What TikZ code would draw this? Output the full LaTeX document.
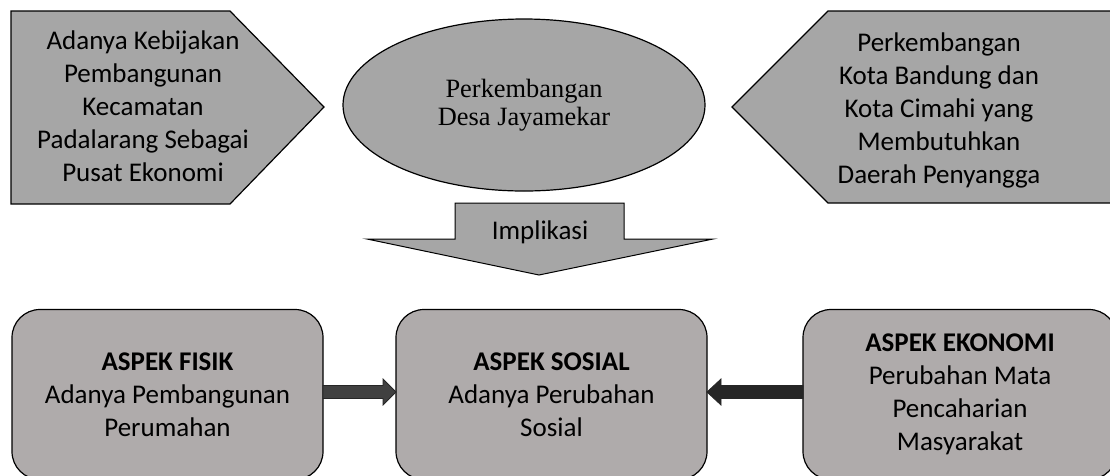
\documentclass[tikz,border=0pt]{standalone}
\usepackage{fontspec}
\setmainfont{Carlito}
\newfontfamily\serifA{Liberation Serif}
\usetikzlibrary{calc,shapes.geometric}
\definecolor{topgray}{RGB}{166,166,166}
\definecolor{boxgray}{RGB}{175,171,171}
\definecolor{arrA}{RGB}{64,64,64}
\definecolor{arrB}{RGB}{38,38,38}
\begin{document}
\begin{tikzpicture}[x=1pt,y=-1pt,
  txt/.style={align=center,font=\fontsize{27}{33}\selectfont,inner sep=0pt},
  shp/.style={draw=black,fill=topgray,line width=1.2pt,line join=miter},
  aspect/.style={draw=black,fill=boxgray,line width=1.2pt,rounded corners=28pt,
    minimum height=170pt,inner sep=0pt,outer sep=0pt,align=center,
    font=\fontsize{27}{33}\selectfont},
  fat/.style={draw=black!85,line width=0.8pt,line join=miter}
]
\useasboundingbox (0,0) rectangle (1110,475);
% top left pentagon
\filldraw[shp] (11,11) -- (230,11) -- (324,107) -- (230,204) -- (11,204) -- cycle;
\node[txt] (kebijakan) at (143,106) {Adanya Kebijakan\\Pembangunan\\Kecamatan\\Padalarang Sebagai\\Pusat Ekonomi};
% top right pentagon
\filldraw[shp] (732,107) -- (828,11) -- (1125,11) -- (1125,203) -- (828,203) -- cycle;
\node[txt] (kota) at (939,110) {Perkembangan\\Kota Bandung dan\\Kota Cimahi yang\\Membutuhkan\\Daerah Penyangga};
% ellipse
\node[ellipse,draw=black,fill=topgray,line width=1.2pt,minimum width=362pt,minimum height=172pt,
  inner sep=0pt,align=center,font=\serifA\fontsize{26.4}{28}\selectfont] (desa) at (524,105)
  {Perkembangan\\Desa Jayamekar};
% implikasi arrow
\filldraw[shp,line width=1pt] (455,203) -- (624,203) -- (624,239) -- (713,239) -- (539,275) -- (367,239) -- (455,239) -- cycle;
\node[txt] (impl) at (540,232) {Implikasi};
% bottom boxes
\node[aspect,minimum width=311pt] (fisik) at (167.5,394.5) {\textbf{ASPEK FISIK}\\Adanya Pembangunan\\Perumahan};
\node[aspect,minimum width=311pt] (sosial) at (551.5,394.5) {\textbf{ASPEK SOSIAL}\\Adanya Perubahan\\Sosial};
\node[aspect,minimum width=314pt] (ekonomi) at (960,394.5) {\textbf{ASPEK EKONOMI}\\Perubahan Mata\\Pencaharian\\Masyarakat};
% connectors
\coordinate (la) at ($(fisik.east)+(0,-2.5)$);
\coordinate (lb) at ($(sosial.west)+(0,-2.5)$);
\filldraw[fat,fill=arrA] ($(la)+(0,-6.5)$) -- ($(lb)+(-13,-6.5)$) -- ($(lb)+(-13,-13)$) -- (lb)
  -- ($(lb)+(-13,13)$) -- ($(lb)+(-13,6.5)$) -- ($(la)+(0,6.5)$) -- cycle;
\coordinate (ra) at ($(ekonomi.west)+(0,-2.5)$);
\coordinate (rb) at ($(sosial.east)+(0,-2.5)$);
\filldraw[fat,fill=arrB] ($(ra)+(0,-6.5)$) -- ($(rb)+(14,-6.5)$) -- ($(rb)+(14,-13)$) -- (rb)
  -- ($(rb)+(14,13)$) -- ($(rb)+(14,6.5)$) -- ($(ra)+(0,6.5)$) -- cycle;
\end{tikzpicture}
\end{document}
